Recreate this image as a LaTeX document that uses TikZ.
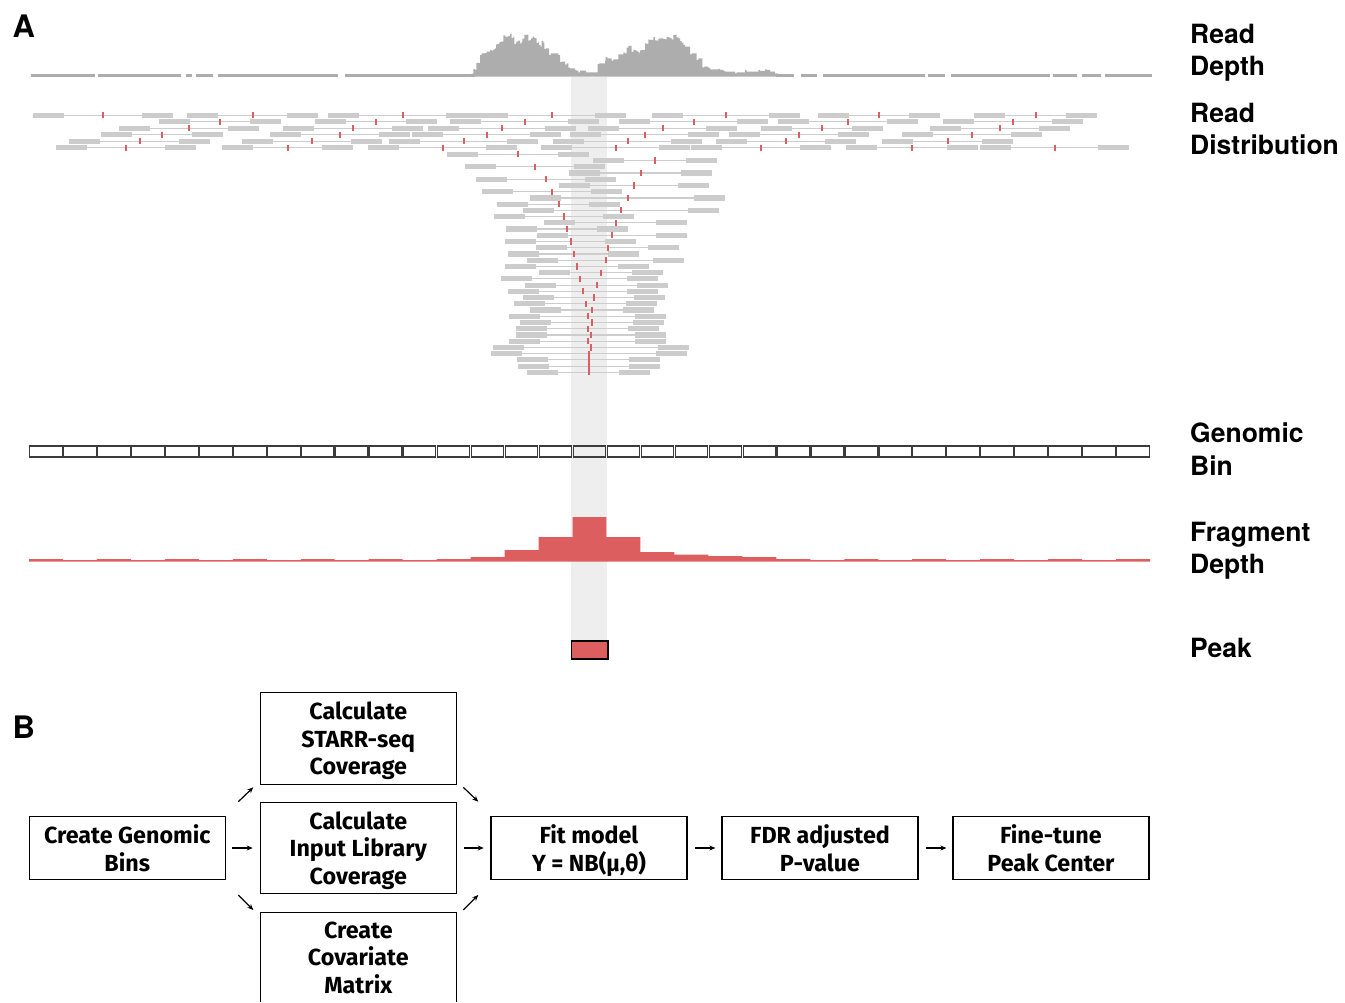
\documentclass[tikz,border=0pt]{standalone}
\usepackage{fontspec}
\setmainfont{TeX Gyre Heros}
\newfontfamily\flowfont{Fira Sans}
\usetikzlibrary{arrows.meta,calc}
\definecolor{depthgray}{RGB}{173,173,173}
\definecolor{readgray}{RGB}{204,204,204}
\definecolor{linegray}{RGB}{205,205,205}
\definecolor{peakred}{RGB}{221,94,94}
\definecolor{bandgray}{RGB}{238,238,238}
\definecolor{bingray}{RGB}{60,60,60}
\newcommand\rdpair[3]{%
  \draw[readline] (#2+31,#1) -- (#3-31,#1);
  \fill[readgray] (#2,#1-2.6) rectangle (#2+31,#1+2.6);
  \fill[readgray] (#3-31,#1-2.6) rectangle (#3,#1+2.6);
  \fill[peakred] ({(#2+#3)/2-1},#1-3.1) rectangle ({(#2+#3)/2+1},#1+3.1);
}
\begin{document}
\begin{tikzpicture}[x=1pt,y=-1pt,
  readline/.style={draw=linegray, line width=1.2pt},
  binbox/.style={draw=bingray, line width=1.1pt},
  tracklabel/.style={anchor=north west, inner sep=0pt, align=left, font=\bfseries\fontsize{26.5}{32.5}\selectfont},
  panel/.style={anchor=base west, inner sep=0pt, font=\bfseries\fontsize{31}{31}\selectfont},
  flowbox/.style={draw=black, line width=1.2pt, minimum width=196pt, minimum height=63pt, align=center, inner sep=0pt, text depth=0pt, font=\flowfont\bfseries\fontsize{23.3}{27.5}\selectfont},
  arr/.style={-{Stealth[length=6pt,width=5pt]}, line width=1.2pt}]
\useasboundingbox (0,0) rectangle (1345,1003);
\pgfmathsetseed{7}
% highlight band
\fill[bandgray] (571,77) rectangle (607,660);
% read depth baseline
\foreach \a/\b in {31/95, 98/181, 186/192, 196/213, 218/338, 345/475, 776/794, 801/817, 823/925, 928/945, 951/1050, 1053/1077, 1082/1101, 1105/1152}
  \fill[depthgray] (\a,73.6) rectangle (\b,76.7);
% read depth histogram
\fill[depthgray] (473,76.7)
  \foreach \x/\y in {473.3/73.3, 475/70, 478/63, 481.7/53.3, 486.7/51.7, 491.7/50.7, 495/48.3, 497.7/44, 501/41.7, 505/36.7, 508.3/36, 511.7/33.3, 513.3/36.7, 516/42.7, 518.3/40.7, 521.7/41.7, 524/39.3, 526/35, 528.3/36, 530/40, 532.7/36.7, 536/38.3, 538.3/41.7, 540.7/46.7, 543.3/42.7, 546/48.3, 550.7/53.3, 560/55, 561.7/61.7, 566.7/63.3, 570/68.3, 576.7/71, 580/70.7, 586/72.3, 599.3/63.3, 606.7/62.3, 607.3/58.3, 613.3/59.3, 620/54.3, 625/53.3, 628.3/46, 633.3/50, 637.3/50.7, 639.3/53.3, 641.7/50, 646.7/44, 650/40, 655/38.3, 656.7/40.7, 660/38.3, 665/39.3, 668.3/37.3, 671.7/39.3, 675/35, 678.3/38.3, 681.7/42.7, 685/46.7, 691.7/53.3, 698.3/58.3, 704/66.7, 710/69.3, 720/70, 725/71.7, 736.7/72.3, 746.7/71.7, 760/71, 766.7/70, 771.7/71.7, 776.7/73.3}
  { -| ({\x-1.7},{\y+1.8*rand}) -| (\x,\y) }
  -| (778,76.7) -- cycle;
% read distribution: broad rows
\foreach \a/\b in {33/173, 187/318, 328/477, 477/626, 652/800, 818/940, 974/1097} {\rdpair{115.3}{\a}{\b}}
\foreach \a/\b in {159/281, 315/437, 450/599, 619/768, 778/918, 943/1083} {\rdpair{121.8}{\a}{\b}}
\foreach \a/\b in {119/259, 283/423, 428/576, 588/737, 761/883, 930/1070} {\rdpair{128.3}{\a}{\b}}
\foreach \a/\b in {101/223, 270/410, 412/561, 570/719, 729/869, 902/1042} {\rdpair{134.8}{\a}{\b}}
\foreach \a/\b in {69/210, 242/382, 389/538, 553/702, 716/856, 882/1013} {\rdpair{141.3}{\a}{\b}}
\foreach \a/\b in {56/196, 222/353, 368/517, 541/690, 691/831, 846/978, 980/1129} {\rdpair{147.8}{\a}{\b}}
% read distribution: funnel rows
\foreach \a/\b [count=\i from 0] in {447/589, 593/717, 465/605, 569/712, 476/616, 559/709, 482/622, 530/725, 497/620, 523/719, 494/634, 544/687, 506/628, 537/687, 505/636, 536/679, 508/639, 527/684, 505/649, 539/663, 501/658, 525/668, 508/658, 523/665, 514/657, 530/654, 509/666, 520/664, 516/659, 516/666, 509/666, 493/689, 491/687, 517/660, 518/660, 527/650}
  {\rdpair{154.3+6.23*\i}{\a}{\b}}
% genomic bins
\foreach \i in {0,...,32}
  \draw[binbox] ({29+33.97*\i+0.7},446) rectangle ({29+33.97*(\i+1)-0.7},457);
% fragment depth
\fill[peakred] (29,561.7)
  \foreach \t [count=\i from 0] in {559,560,559,560,559,560,559,560,559,560,559,560,559,557,550,537,517,537,552,554.7,556,557,559,560,559,560,559,560,559,560,559,560,559}
  { -- ({29+33.97*\i},\t) -- ({29+33.97*(\i+1)},\t) }
  -- (1150,561.7) -- cycle;
% peak
\draw[fill=peakred, line width=1.7pt] (571.5,640.8) rectangle (607.8,659.3);
% track labels
\node[panel] (labA) at (12.5,38) {A};
\node[tracklabel] (lblDepth) at (1190,23.8) {Read\\Depth};
\node[tracklabel] (lblDist) at (1190,102.8) {Read\\Distribution};
\node[tracklabel] (lblBin) at (1190,422.8) {Genomic\\Bin};
\node[tracklabel] (lblFrag) at (1190,521.8) {Fragment\\Depth};
\node[tracklabel] (lblPeak) at (1190,637.8) {Peak};
% panel B
\node[panel] (labB) at (12.5,738) {B};
\node[flowbox] (bins) at (127.3,848) {Create Genomic\\Bins};
\node[flowbox, minimum height=92pt] (starr) at (358.3,738.3) {Calculate\\STARR-seq\\Coverage};
\node[flowbox, minimum height=91.7pt] (input) at (358.3,848) {Calculate\\Input Library\\Coverage};
\node[flowbox, draw=none, outer sep=0pt, minimum height=90pt] (cov) at (358.3,957.3) {Create\\Covariate\\Matrix};
\draw[line width=1.2pt] (cov.south west) -- (cov.north west) -- (cov.north east) -- (cov.south east);
\node[flowbox] (fit) at (589,848) {Fit model\\Y = NB(μ,θ)};
\node[flowbox] (fdr) at (820,848) {FDR adjusted\\P-value};
\node[flowbox] (fine) at (1051,848) {Fine-tune\\Peak Center};
% connectors
\coordinate (ul1) at (238.3,801.7); \coordinate (ul2) at (253.3,787.3);
\coordinate (ll1) at (238.3,895);   \coordinate (ll2) at (253.3,910);
\coordinate (ur1) at (463.3,787.3); \coordinate (ur2) at (478.3,801.7);
\coordinate (lr1) at (463.3,910);   \coordinate (lr2) at (478.3,895);
\draw[arr] (ul1) -- (ul2);
\draw[arr] (ll1) -- (ll2);
\draw[arr] (ur1) -- (ur2);
\draw[arr] (lr1) -- (lr2);
\draw[arr, shorten <=6.4pt, shorten >=7pt] (bins) -- (input);
\draw[arr, shorten <=7pt, shorten >=6.7pt] (input) -- (fit);
\draw[arr, shorten <=7.5pt, shorten >=6pt] (fit) -- (fdr);
\draw[arr, shorten <=7pt, shorten >=6pt] (fdr) -- (fine);
\end{tikzpicture}
\end{document}
